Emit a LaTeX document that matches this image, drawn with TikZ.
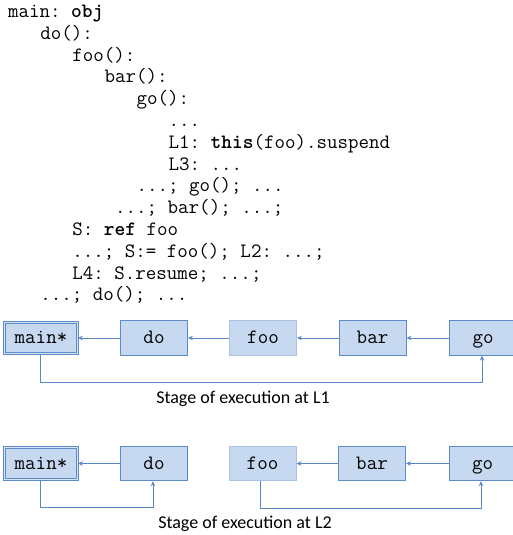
\documentclass[tikz,border=0pt]{standalone}
\usepackage{fontspec}
\setmainfont{Carlito}
\usetikzlibrary{arrows.meta,calc}
\definecolor{boxfill}{HTML}{C6D9F1}
\definecolor{boxline}{HTML}{5B8BC9}
\definecolor{boxlight}{HTML}{A9C3E4}
\definecolor{arrowc}{HTML}{5A88C6}
\newcommand{\codefont}{\fontsize{20.4}{24}\selectfont\ttfamily\frenchspacing}
\tikzset{
  code/.style={anchor=base west,inner sep=0pt,font=\codefont},
  frame/.style={draw=boxline,fill=boxfill,line width=0.9pt,minimum width=67pt,minimum height=34.5pt,
    text height=14pt,text depth=2.6pt,inner sep=0pt,font=\codefont},
  lightframe/.style={frame,draw=boxlight},
  mainframe/.style={frame,double=boxfill!70!white,double distance=1.3pt,line width=0.8pt,minimum width=73pt,minimum height=31.5pt},
  link/.style={draw=arrowc,line width=0.9pt,-{Stealth[length=5pt,width=4.5pt]}},
  caption/.style={font=\fontsize{18}{21}\selectfont,inner sep=0pt,anchor=base}
}
\begin{document}
\begin{tikzpicture}[x=1pt,y=-1pt]
\useasboundingbox (0,0) rectangle (512,535);
% code lines
\node[code] (c0) at (8,17.5) {main: \textbf{obj}};
\node[code] (c1) at (40.1,39.3) {do():};
\node[code] (c2) at (72.2,61.1) {foo():};
\node[code] (c3) at (104.3,82.9) {bar():};
\node[code] (c4) at (136.4,104.7) {go():};
\node[code] (c5) at (168.5,126.5) {...};
\node[code] (c6) at (168.5,148.3) {L1: \textbf{this}(foo).suspend};
\node[code] (c7) at (168.5,170.1) {L3: ...};
\node[code] (c8) at (136.4,191.9) {...; go(); ...};
\node[code] (c9) at (115,213.7) {...; bar(); ...;};
\node[code] (c10) at (72.2,235.5) {S: \textbf{ref} foo};
\node[code] (c11) at (72.2,257.3) {...; S:= foo(); L2: ...;};
\node[code] (c12) at (72.2,279.1) {L4: S.resume; ...;};
\node[code] (c13) at (40.1,300.9) {...; do(); ...};
% row 1
\node[mainframe] (m1) at (41,338) {main*};
\node[frame] (d1) at (154,338) {do};
\node[lightframe] (f1) at (263,338) {foo};
\node[frame] (b1) at (372.5,338) {bar};
\node[frame] (g1) at (483,338) {go};
\draw[link] (d1.west) -- (m1.east);
\draw[link] (f1.west) -- (d1.east);
\draw[link] (b1.west) -- (f1.east);
\draw[link] (g1.west) -- (b1.east);
\coordinate (m1s) at ([xshift=-1pt]m1.south);
\coordinate (g1s) at ([xshift=-1pt]g1.south);
\draw[link] (m1s) -- ++(0,28) -| (g1s);
\node[caption] (cap1) at (243,403.5) {Stage of execution at L1};
% row 2
\node[mainframe] (m2) at (41,463.5) {main*};
\node[frame] (d2) at (154,463.5) {do};
\node[lightframe] (f2) at (262.5,463.5) {foo};
\node[frame] (b2) at (372,463.5) {bar};
\node[frame] (g2) at (482.5,463.5) {go};
\draw[link] (d2.west) -- (m2.east);
\draw[link] (b2.west) -- (f2.east);
\draw[link] (g2.west) -- (b2.east);
\coordinate (m2s) at ([xshift=-1pt]m2.south);
\coordinate (d2s) at ([xshift=-1pt]d2.south);
\coordinate (f2s) at ([xshift=-2pt]f2.south);
\coordinate (g2s) at ([xshift=-1.5pt]g2.south);
\draw[link] (m2s) -- ++(0,28) -| (d2s);
\draw[link] (f2s) -- ++(0,27) -| (g2s);
\node[caption] (cap2) at (245,528) {Stage of execution at L2};
\end{tikzpicture}
\end{document}
